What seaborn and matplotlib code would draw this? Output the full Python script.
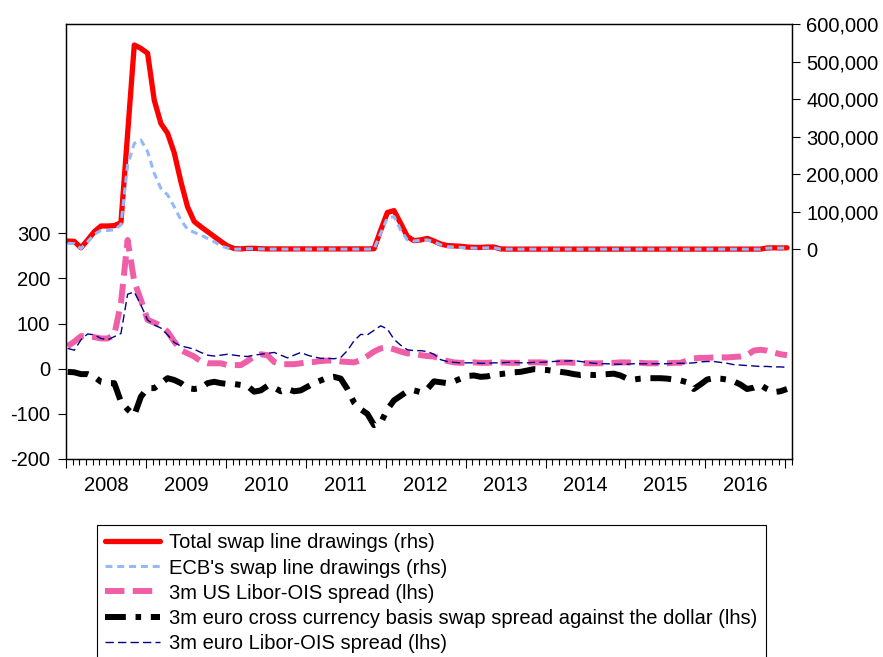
import numpy as np
import pandas as pd
import matplotlib
matplotlib.use('Agg')
import matplotlib.pyplot as plt
import matplotlib.transforms as mtransforms
import seaborn as sns

sns.set_style('ticks')
plt.rcParams['font.family'] = ['Liberation Sans', 'DejaVu Sans']
plt.rcParams['lines.scale_dashes'] = False
plt.rcParams['text.color'] = 'black'
plt.rcParams['xtick.color'] = 'black'
plt.rcParams['ytick.color'] = 'black'
plt.rcParams['xtick.labelcolor'] = 'black'
plt.rcParams['ytick.labelcolor'] = 'black'

# monthly observations, Jan 2008 - Jan 2017
total_swap = [22000, 21000, 4000, 25000, 47000, 62000, 62000, 63000, 71000, 308000,
              544000, 535000, 522000, 397000, 335000, 309000, 257000, 180000, 113000, 74000,
              60000, 47000, 34000, 21000, 9000, 2000, 1000, 2500, 2500, 1500,
              1000, 1000, 1000, 1000, 1000, 1000, 1000, 1000, 1000, 1000,
              1000, 1000, 1000, 1000, 1000, 1000, 1500, 51000, 98000, 103000,
              69000, 34000, 23000, 25000, 29000, 22000, 14000, 10000, 9000, 8000,
              6000, 5000, 5000, 6000, 6000, 1000, 500, 500, 500, 500,
              500, 500, 500, 500, 500, 500, 500, 500, 500, 500,
              500, 500, 500, 500, 500, 500, 500, 500, 500, 500,
              500, 500, 500, 500, 500, 500, 500, 500, 500, 500,
              500, 500, 500, 500, 500, 3500, 4000, 3500, 4000]

ecb_swap = [16000, 15000, 2000, 20000, 40000, 50000, 50000, 52000, 65000, 224000,
            282000, 291000, 260000, 202000, 162000, 145000, 113000, 78000, 53000, 45000,
            38000, 29000, 20000, 9000, 3000, 500, 500, 1500, 1500, 1000,
            500, 500, 500, 500, 500, 500, 500, 500, 500, 500,
            500, 500, 500, 500, 500, 500, 1000, 43000, 83000, 87000,
            51000, 25000, 22000, 24000, 25000, 20000, 12000, 7000, 6000, 5000,
            4000, 3000, 3000, 4000, 4000, 500, 300, 300, 300, 300,
            300, 300, 300, 300, 300, 300, 300, 300, 300, 300,
            300, 300, 300, 300, 300, 300, 300, 300, 300, 300,
            300, 300, 300, 300, 300, 300, 300, 300, 300, 300,
            300, 300, 300, 300, 300, 3000, 3500, 3000, 3500]

us_libor_ois = [50, 60, 72, 72, 70, 67, 67, 75, 145, 285,
                193, 152, 108, 102, 95, 82, 60, 41, 34, 27,
                16, 12, 12, 12, 8, 8, 8, 17, 27, 32,
                30, 15, 10, 10, 10, 12, 14, 15, 17, 18,
                18, 16, 15, 14, 19, 28, 38, 45, 47, 43,
                38, 34, 33, 30, 28, 27, 22, 17, 14, 13,
                13, 14, 13, 13, 14, 14, 13, 13, 13, 14,
                14, 14, 13, 13, 14, 14, 13, 13, 12, 12,
                12, 13, 13, 14, 14, 13, 13, 12, 12, 12,
                12, 13, 13, 18, 23, 24, 24, 25, 25, 25,
                26, 27, 30, 40, 42, 40, 36, 32, 30]

euro_basis = [-7, -8, -12, -12, -18, -29, -32, -32, -73, -90,
              -103, -62, -43, -43, -32, -21, -25, -32, -43, -45,
              -43, -32, -29, -32, -34, -34, -36, -38, -51, -48,
              -38, -42, -50, -45, -50, -48, -40, -32, -26, -20,
              -18, -22, -45, -75, -90, -100, -125, -120, -90, -70,
              -60, -50, -48, -52, -45, -28, -30, -32, -28, -22,
              -16, -15, -18, -17, -13, -12, -10, -8, -7, -4,
              -1, -2, -3, -5, -7, -9, -12, -14, -13, -14,
              -13, -12, -11, -15, -22, -24, -22, -21, -21, -21,
              -22, -24, -26, -30, -45, -35, -24, -21, -22, -24,
              -28, -35, -45, -42, -36, -45, -52, -50, -45]

euro_libor_ois = [45, 41, 64, 77, 75, 67, 64, 71, 78, 165,
                  170, 141, 108, 97, 90, 75, 58, 50, 47, 43,
                  36, 30, 28, 30, 32, 30, 28, 27, 30, 32,
                  34, 36, 30, 24, 30, 36, 30, 26, 23, 23,
                  22, 25, 40, 62, 76, 75, 85, 95, 88, 65,
                  52, 42, 40, 40, 38, 32, 20, 16, 14, 13,
                  13, 13, 12, 12, 13, 13, 14, 14, 13, 13,
                  14, 14, 15, 16, 17, 17, 18, 16, 14, 12,
                  11, 11, 10, 10, 10, 11, 11, 11, 11, 11,
                  11, 12, 12, 12, 13, 15, 16, 16, 14, 12,
                  9, 8, 7, 6, 5, 5, 4, 4, 3]

labels = ['Total swap line drawings (rhs)',
          "ECB's swap line drawings (rhs)",
          '3m US Libor-OIS spread (lhs)',
          '3m euro cross currency basis swap spread against the dollar (lhs)',
          '3m euro Libor-OIS spread (lhs)']

months = pd.date_range('2008-01-01', periods=len(total_swap), freq='MS')
df = pd.DataFrame({
    't': months.year + (months.month - 1 + 0.25) / 12,
    'total': total_swap,
    'ecb': ecb_swap,
    'us_libor': us_libor_ois,
    'basis': euro_basis,
    'euro_libor': euro_libor_ois,
})

W, H = 883, 657
fig = plt.figure(figsize=(W / 100, H / 100), dpi=100)
ax = fig.add_axes([66 / W, 1 - 459 / H, (792 - 66) / W, (459 - 24) / H])
ax2 = ax.twinx()

# left hand side
sns.lineplot(data=df, x='t', y='us_libor', ax=ax, color='#ef5fa7', lw=4.3,
             linestyle=(0, (14, 6)), label=labels[2], legend=False, sort=False)
sns.lineplot(data=df, x='t', y='basis', ax=ax, color='black', lw=4.3,
             linestyle=(0, (15, 7, 4, 7)), label=labels[3], legend=False, sort=False)
sns.lineplot(data=df, x='t', y='euro_libor', ax=ax, color='#00008c', lw=1.0,
             linestyle=(0, (6, 3)), label=labels[4], legend=False, sort=False)

# right hand side
sns.lineplot(data=df, x='t', y='total', ax=ax2, color='#ff0000', lw=3.8,
             label=labels[0], legend=False, sort=False, solid_joinstyle='round')
sns.lineplot(data=df, x='t', y='ecb', ax=ax2, color='#94b9fa', lw=2.2,
             linestyle=(0, (5, 3.5)), label=labels[1], legend=False, sort=False)

ax.set_xlim(2008.0, 2017.075)
ax.set_ylim(-200, 763.5)
ax2.set_ylim(-558500, 600000)

ax.set_yticks([-200, -100, 0, 100, 200, 300])
ax.set_yticklabels(['-200', '-100', '0', '100', '200', '300'])
r_ticks = [0, 100000, 200000, 300000, 400000, 500000, 600000]
ax2.set_yticks(r_ticks)
ax2.set_yticklabels([f'{v:,}' for v in r_ticks])

ax.set_xticks(range(2008, 2018))
ax.set_xticklabels([])
ax.set_xticks(np.arange(2008, 2017.1, 1 / 12), minor=True)

for a in (ax, ax2):
    a.set_xlabel('')
    a.set_ylabel('')
    for s in a.spines.values():
        s.set_visible(True)
        s.set_color('black')
        s.set_linewidth(0.9)

ax.tick_params(axis='x', which='major', length=6.5, width=0.8, direction='out', color='black')
ax.tick_params(axis='x', which='minor', length=4.0, width=0.8, direction='out', color='black')
ax.tick_params(axis='y', length=5.8, width=0.8, pad=5.5, labelsize=14.5, direction='out',
               color='black', labelcolor='black')
ax2.tick_params(axis='y', length=5.8, width=0.8, pad=4.5, labelsize=14.5, direction='out',
                color='black', labelcolor='black')

trans = mtransforms.blended_transform_factory(ax.transData, ax.transAxes)
for yr in range(2008, 2017):
    ax.text(yr + 0.5, -0.06, str(yr), transform=trans, ha='center', va='center',
            fontsize=14.5, color='black')

handles = list(ax2.get_lines()) + list(ax.get_lines())
leg = fig.legend(handles=handles, labels=labels, loc='upper left',
                 bbox_to_anchor=(97 / W, 1 - 525 / H), bbox_transform=fig.transFigure,
                 borderaxespad=0, fontsize=14.5, frameon=True, fancybox=False,
                 edgecolor='black', framealpha=1, handlelength=2.7, handletextpad=0.45,
                 borderpad=0.42, labelspacing=0.3)
leg.get_frame().set_linewidth(0.8)
for txt in leg.get_texts():
    txt.set_color('black')

fig.savefig('out.png', dpi=100)
